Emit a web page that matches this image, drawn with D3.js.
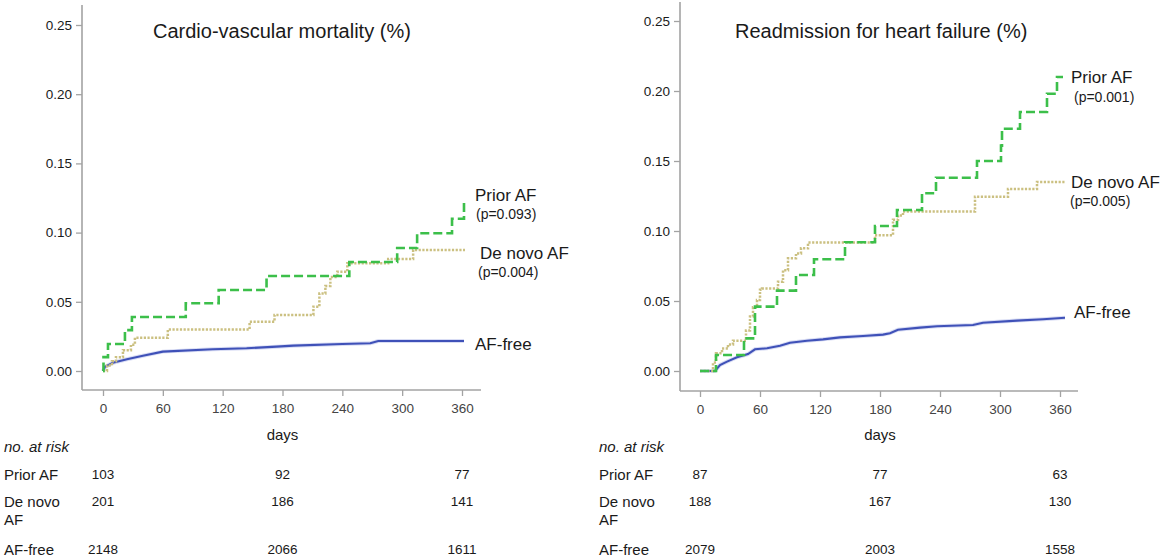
<!DOCTYPE html>
<html>
<head>
<meta charset="utf-8">
<script src="https://cdn.jsdelivr.net/npm/d3@7"></script>
<style>
body { margin: 0; background: #fff; }
text { font-family: "Liberation Sans", Arial, sans-serif; }
</style>
</head>
<body>
<div id="chart"></div>
<script>
// ---- values ----
var dayTicks = [0, 60, 120, 180, 240, 300, 360];
var yTicks = [0, 0.05, 0.10, 0.15, 0.20, 0.25];
var groups = ["Prior AF", "De novo AF", "AF-free"];
var riskDays = [0, 180, 360];

// cardio-vascular mortality
var cvPriorDays = [0, 0.5, 5, 22, 29, 83, 116, 164, 247, 295, 315, 350, 362, 363];
var cvPriorVals = [0, 0.010, 0.0195, 0.0295, 0.039, 0.049, 0.0585, 0.0686, 0.0788, 0.0889, 0.0995, 0.110, 0.122, 0.122];
var cvNovoDays = [0, 4, 9, 13, 20, 28, 32, 65, 147, 172, 211, 217, 223, 228, 235, 245, 286, 311, 363];
var cvNovoVals = [0, 0.004, 0.007, 0.010, 0.015, 0.019, 0.024, 0.030, 0.0356, 0.0405, 0.0465, 0.056, 0.0614, 0.068, 0.0718, 0.0778, 0.081, 0.0874, 0.0874];
var cvFreeDays = [0, 2, 10, 24, 40, 60, 110, 144, 174, 191, 240, 268, 276, 362];
var cvFreeVals = [0, 0.003, 0.006, 0.0085, 0.011, 0.014, 0.0157, 0.0164, 0.0176, 0.0183, 0.0195, 0.020, 0.0217, 0.0217];
var cvPValues = ["0.093", "0.004"];
var cvAtRisk = [[103, 92, 77], [201, 186, 141], [2148, 2066, 1611]];

// readmission for heart failure
var hfPriorDays = [0, 16, 44, 55, 77, 96, 114, 145, 175, 197, 222, 236, 277, 301, 302, 320, 347, 357, 363];
var hfPriorVals = [0, 0.0114, 0.0233, 0.046, 0.0574, 0.0686, 0.0798, 0.092, 0.1036, 0.115, 0.127, 0.138, 0.150, 0.161, 0.173, 0.185, 0.198, 0.210, 0.210];
var hfNovoDays = [0, 13, 16, 22, 28, 33, 46, 50, 53, 57, 60, 62, 78, 83, 88, 96, 101, 108, 175, 193, 198, 203, 275, 308, 337, 365];
var hfNovoVals = [0, 0.006, 0.0126, 0.016, 0.019, 0.0216, 0.029, 0.039, 0.0455, 0.0507, 0.058, 0.059, 0.0638, 0.072, 0.0805, 0.084, 0.0876, 0.0917, 0.097, 0.108, 0.111, 0.114, 0.1245, 0.130, 0.135, 0.135];
var hfFreeDays = [0, 15, 20, 27, 37, 48, 55, 67, 80, 90, 107, 123, 140, 163, 183, 190, 198, 220, 237, 273, 283, 317, 343, 365];
var hfFreeVals = [0, 0, 0.0043, 0.0067, 0.0098, 0.0121, 0.0155, 0.0162, 0.018, 0.0202, 0.0216, 0.0226, 0.024, 0.025, 0.026, 0.027, 0.0295, 0.031, 0.032, 0.0329, 0.0345, 0.036, 0.037, 0.038];
var hfPValues = ["0.001", "0.005"];
var hfAtRisk = [[87, 77, 63], [188, 167, 130], [2079, 2003, 1558]];

var w = 1160,
    h = 559;
var axisGrey = '#a3a3a3';

var svg = d3.select('#chart')
            .append('svg')
            .attr('width', w)
            .attr('height', h);

var styles = {
  prior: {stroke: '#3cbf4a', width: 2.6, dash: '9,4', curve: d3.curveStepAfter},
  novo:  {stroke: '#cbc081', width: 2.5, dash: '2.2,1.5', curve: d3.curveStepAfter},
  free:  {stroke: '#3f51b8', width: 2.1, dash: null, curve: d3.curveLinear}
};

var panels = [
  {
    title: 'Cardio-vascular mortality (%)', titleX: 153,
    x0: 103, x1: 462, yTop: 25, axisX: 82, axisTop: 5, axisRight: 481, axisY: 390,
    series: [
      {days: cvFreeDays, vals: cvFreeVals, style: styles.free},
      {days: cvNovoDays, vals: cvNovoVals, style: styles.novo},
      {days: cvPriorDays, vals: cvPriorVals, style: styles.prior}
    ],
    labels: [
      {t: 'Prior AF', x: 475, y: 201, s: 17},
      {t: '(p=' + cvPValues[0] + ')', x: 476, y: 219, s: 14},
      {t: 'De novo AF', x: 480, y: 259, s: 17},
      {t: '(p=' + cvPValues[1] + ')', x: 478, y: 277, s: 14},
      {t: 'AF-free', x: 475, y: 350, s: 17}
    ],
    risk: cvAtRisk, tableX: 4
  },
  {
    title: 'Readmission for heart failure (%)', titleX: 735,
    x0: 700, x1: 1060, yTop: 21, axisX: 680, axisTop: 2, axisRight: 1078, axisY: 391,
    series: [
      {days: hfFreeDays, vals: hfFreeVals, style: styles.free},
      {days: hfNovoDays, vals: hfNovoVals, style: styles.novo},
      {days: hfPriorDays, vals: hfPriorVals, style: styles.prior}
    ],
    labels: [
      {t: 'Prior AF', x: 1071, y: 83, s: 17},
      {t: '(p=' + hfPValues[0] + ')', x: 1074, y: 102, s: 14},
      {t: 'De novo AF', x: 1071, y: 188, s: 17},
      {t: '(p=' + hfPValues[1] + ')', x: 1070, y: 206, s: 14},
      {t: 'AF-free', x: 1074, y: 318, s: 17}
    ],
    risk: hfAtRisk, tableX: 599
  }
];

panels.forEach(function(p) {
  var x = d3.scaleLinear().domain([0, 360]).range([p.x0, p.x1]);
  var y = d3.scaleLinear().domain([0, 0.25]).range([371, p.yTop]);

  // y axis
  var gy = svg.append('g')
      .attr('transform', 'translate(' + p.axisX + ',0)')
      .call(d3.axisLeft(y).tickValues(yTicks).tickFormat(d3.format('.2f')).tickSize(6).tickPadding(4));
  gy.select('.domain').remove();
  gy.selectAll('line').attr('stroke', axisGrey).attr('stroke-width', 1.3);
  gy.selectAll('text').attr('font-size', 13.5).attr('fill', '#1a1a1a')
      .attr('font-family', '"Liberation Sans", Arial, sans-serif');

  // x axis
  var gx = svg.append('g')
      .attr('transform', 'translate(0,' + p.axisY + ')')
      .call(d3.axisBottom(x).tickValues(dayTicks).tickSize(6).tickPadding(7));
  gx.select('.domain').remove();
  gx.selectAll('line').attr('stroke', axisGrey).attr('stroke-width', 1.3);
  gx.selectAll('text').attr('font-size', 13.5).attr('fill', '#444')
      .attr('font-family', '"Liberation Sans", Arial, sans-serif');

  svg.append('line')
      .attr('x1', p.axisX).attr('y1', p.axisTop)
      .attr('x2', p.axisX).attr('y2', p.axisY)
      .attr('stroke', axisGrey).attr('stroke-width', 1.6);
  svg.append('line')
      .attr('x1', p.axisX).attr('y1', p.axisY)
      .attr('x2', p.axisRight).attr('y2', p.axisY)
      .attr('stroke', axisGrey).attr('stroke-width', 1.6);

  // curves
  p.series.forEach(function(s) {
    var pts = d3.zip(s.days, s.vals);
    var line = d3.line()
        .x(function(d) { return x(d[0]); })
        .y(function(d) { return y(d[1]); })
        .curve(s.style.curve);
    if (!s.style.dash) {
      // soft halo like the blurred original
      svg.append('path')
          .attr('d', line(pts))
          .attr('fill', 'none')
          .attr('stroke', '#aab4e6')
          .attr('stroke-opacity', 0.45)
          .attr('stroke-width', 4);
    }
    svg.append('path')
        .attr('d', line(pts))
        .attr('fill', 'none')
        .attr('stroke', s.style.stroke)
        .attr('stroke-width', s.style.width)
        .attr('stroke-dasharray', s.style.dash);
  });

  // title and curve labels
  svg.append('text')
      .attr('x', p.titleX)
      .attr('y', 38)
      .attr('font-size', '20px')
      .attr('fill', '#1a1a1a')
      .text(p.title);

  svg.selectAll(null)
      .data(p.labels)
      .enter()
      .append('text')
      .attr('x', function(d) { return d.x; })
      .attr('y', function(d) { return d.y; })
      .attr('font-size', function(d) { return d.s + 'px'; })
      .attr('fill', '#1a1a1a')
      .text(function(d) { return d.t; });

  // days label
  svg.append('text')
      .attr('x', x(180))
      .attr('y', 440)
      .attr('text-anchor', 'middle')
      .attr('font-size', '15px')
      .attr('fill', '#1a1a1a')
      .text('days');

  // number at risk table
  svg.append('text')
      .attr('x', p.tableX)
      .attr('y', 452)
      .attr('font-size', '15px')
      .attr('font-style', 'italic')
      .attr('fill', '#1a1a1a')
      .text('no. at risk');

  var rowY = [480, 507, 555];
  groups.forEach(function(g, i) {
    var lbl = svg.append('text')
        .attr('x', p.tableX)
        .attr('y', rowY[i])
        .attr('font-size', '15px')
        .attr('fill', '#1a1a1a');
    if (g === 'De novo AF') {
      lbl.append('tspan').attr('x', p.tableX).text('De novo');
      lbl.append('tspan').attr('x', p.tableX).attr('dy', 18).text('AF');
    } else {
      lbl.text(g);
    }
    svg.selectAll(null)
        .data(p.risk[i])
        .enter()
        .append('text')
        .attr('x', function(d, j) { return x(riskDays[j]); })
        .attr('y', rowY[i] - 1)
        .attr('text-anchor', 'middle')
        .attr('font-size', '13.5px')
        .attr('fill', '#1a1a1a')
        .text(function(d) { return d; });
  });
});
</script>
</body>
</html>
